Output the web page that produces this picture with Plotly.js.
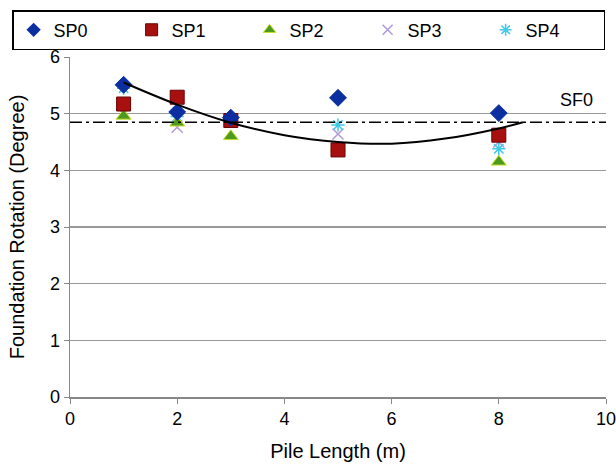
<!DOCTYPE html>
<html>
<head>
<meta charset="utf-8">
<script src="https://cdn.plot.ly/plotly-3.0.1.min.js"></script>
<style>html,body{margin:0;padding:0;background:#fff;}#chart{width:616px;height:466px;}</style>
</head>
<body>
<div id="chart"></div>
<script>
// Data
var pileLength = [1, 2, 3, 5, 8];
var sp0 = [5.51, 5.03, 4.93, 5.28, 5.01];
var sp1 = [5.17, 5.29, 4.88, 4.36, 4.62];
var sp2 = [4.96, 4.84, 4.60, 4.40, 4.15];
var sp3 = [5.00, 4.76, 4.85, 4.64, 4.50];
var sp4 = [5.45, 4.95, 4.90, 4.80, 4.38];
var trendX = [1, 2, 3, 4, 5, 6, 7, 8, 8.45];
var trendY = [5.55, 5.16, 4.84, 4.62, 4.50, 4.47, 4.56, 4.74, 4.85];
var sf0X = [0, 10];
var sf0Y = [4.85, 4.85];
var sf0Label = "SF0";

var font = "Liberation Sans, Arial, sans-serif";
var c0 = "#0b2fa0", c1 = "#a81010", c2 = "#4e9a1e", c3 = "#b09ad6", c4 = "#40c8e8";
var traces = [
  {x: pileLength, y: sp3, name: "SP3", mode: "markers", type: "scatter", showlegend: false,
   marker: {symbol: "x-thin-open", size: 11, color: c3, line: {color: c3, width: 1.5}}},
  {x: pileLength, y: sp4, name: "SP4", mode: "markers", type: "scatter", showlegend: false,
   marker: {symbol: "asterisk-open", size: 11, color: c4, line: {color: c4, width: 1.5}}},
  {x: pileLength, y: sp2, name: "SP2", mode: "markers", type: "scatter", showlegend: false,
   marker: {symbol: "triangle-up", size: 13, color: c2, line: {color: "#c8e030", width: 1}}},
  {x: pileLength, y: sp1, name: "SP1", mode: "markers", type: "scatter", showlegend: false,
   marker: {symbol: "square", size: 14, color: c1, line: {color: "#6a0000", width: 1}}},
  {x: pileLength, y: sp0, name: "SP0", mode: "markers", type: "scatter", showlegend: false,
   marker: {symbol: "diamond", size: 13, color: c0, line: {color: c0, width: 1}}},
  {x: trendX, y: trendY, mode: "lines", type: "scatter", showlegend: false, hoverinfo: "skip",
   line: {color: "#000", width: 2, shape: "spline"}},
  {x: sf0X, y: sf0Y, mode: "lines", type: "scatter", showlegend: false, hoverinfo: "skip",
   line: {color: "#000", width: 1.5, dash: "12px,4px,3px,4px"}},
  // legend entries (order SP0..SP4)
  {x: [null], y: [null], name: "SP0", mode: "markers", type: "scatter",
   marker: {symbol: "diamond", size: 11, color: c0}},
  {x: [null], y: [null], name: "SP1", mode: "markers", type: "scatter",
   marker: {symbol: "square", size: 12, color: c1, line: {color: "#6a0000", width: 1}}},
  {x: [null], y: [null], name: "SP2", mode: "markers", type: "scatter",
   marker: {symbol: "triangle-up", size: 11, color: c2, line: {color: "#c8e030", width: 1}}},
  {x: [null], y: [null], name: "SP3", mode: "markers", type: "scatter",
   marker: {symbol: "x-thin-open", size: 10, color: c3, line: {color: c3, width: 1.5}}},
  {x: [null], y: [null], name: "SP4", mode: "markers", type: "scatter",
   marker: {symbol: "asterisk-open", size: 10, color: c4, line: {color: c4, width: 1.5}}}
];

var layout = {
  width: 616, height: 466,
  margin: {l: 70, r: 10, t: 57, b: 69, autoexpand: false},
  paper_bgcolor: "#fff", plot_bgcolor: "#fff",
  font: {family: font, size: 18, color: "#000"},
  showlegend: true,
  legend: {
    orientation: "h", x: -0.108, xanchor: "left", xref: "paper",
    y: 1.138, yanchor: "top", yref: "paper",
    bordercolor: "#000", borderwidth: 1.5,
    entrywidth: 73, entrywidthmode: "pixels",
    font: {family: font, size: 18, color: "#000"},
    itemwidth: 30, traceorder: "normal"
  },
  xaxis: {
    range: [0, 10], dtick: 2, tick0: 0,
    showgrid: false, zeroline: false,
    showline: true, linecolor: "#888", linewidth: 1.5,
    ticks: "outside", ticklen: 5, tickcolor: "#888",
    ticklabeloverflow: "allow",
    tickfont: {family: font, size: 18, color: "#000"},
    title: {text: "Pile Length (m)", font: {family: font, size: 20, color: "#000"}, standoff: 16}
  },
  yaxis: {
    range: [0, 6], dtick: 1, tick0: 0,
    showgrid: true, gridcolor: "#999", gridwidth: 1.5,
    zeroline: false,
    showline: true, linecolor: "#888", linewidth: 1.5,
    ticks: "outside", ticklen: 5, tickcolor: "#888",
    ticklabeloverflow: "allow",
    tickfont: {family: font, size: 18, color: "#000"},
    title: {text: "Foundation Rotation (Degree)", font: {family: font, size: 20, color: "#000"}, standoff: 20}
  },
  annotations: [{
    x: 9.45, y: 5.24, xref: "x", yref: "y", text: sf0Label, showarrow: false,
    font: {family: font, size: 18, color: "#000"}
  }]
};

Plotly.newPlot("chart", traces, layout, {displayModeBar: false, staticPlot: true});
</script>
</body>
</html>
